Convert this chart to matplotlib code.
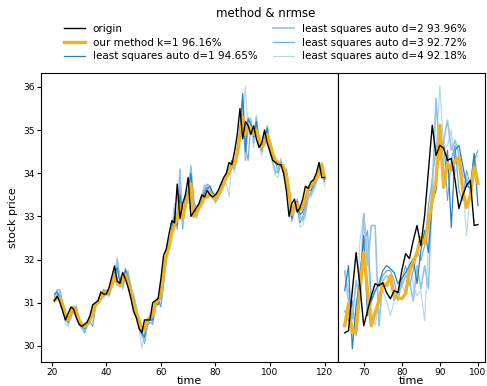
import numpy as np
import matplotlib.pyplot as plt

# left panel: t = 21..120
t_left = np.arange(21, 121)

origin = [31.05, 31.15, 31.0, 30.8, 30.6, 30.75, 30.9, 30.85, 30.65, 30.5,
          30.45, 30.5, 30.55, 30.7, 30.95, 31.0, 31.05, 31.25, 31.2, 31.2,
          31.35, 31.6, 31.85, 31.5, 31.45, 31.7, 31.55, 31.35, 31.1, 30.8,
          30.65, 30.4, 30.3, 30.6, 30.6, 30.6, 31.0, 31.05, 31.1, 31.55,
          32.1, 32.25, 32.6, 32.9, 32.85, 33.75, 32.95, 33.3, 33.5, 33.9,
          33.0, 33.1, 33.2, 33.3, 33.5, 33.45, 33.6, 33.5, 33.45, 33.5,
          33.6, 33.75, 33.9, 34.0, 34.25, 34.2, 34.5, 34.9, 35.5, 34.8,
          35.2, 35.1, 34.9, 35.1, 34.8, 34.6, 34.7, 35.0, 34.7, 34.5,
          34.3, 34.25, 34.2, 34.2, 34.0, 33.6, 33.0, 33.3, 33.4, 33.1,
          33.2, 33.4, 33.7, 33.65, 33.8, 33.85, 34.0, 34.25, 33.9, 33.9]

ours = [31.05, 31.1, 31.1, 30.95, 30.75, 30.6, 30.75, 30.9, 30.8, 30.6,
        30.5, 30.45, 30.5, 30.6, 30.75, 30.95, 31.0, 31.1, 31.25, 31.2,
        31.25, 31.4, 31.65, 31.45, 31.4, 31.5, 31.65, 31.45, 31.25, 30.95,
        30.75, 30.6, 30.4, 30.35, 30.6, 30.65, 30.7, 31.0, 31.05, 31.2,
        31.7, 32.1, 32.3, 32.6, 32.8, 32.95, 33.25, 32.95, 33.25, 33.5,
        33.75, 33.0, 33.05, 33.2, 33.3, 33.45, 33.45, 33.55, 33.45, 33.4,
        33.5, 33.6, 33.75, 33.9, 34.0, 34.2, 34.2, 34.45, 34.85, 35.3,
        34.9, 35.1, 35.05, 34.9, 35.0, 34.8, 34.6, 34.7, 34.9, 34.7,
        34.45, 34.3, 34.25, 34.2, 34.15, 33.95, 33.55, 33.05, 33.25, 33.3,
        33.15, 33.2, 33.4, 33.65, 33.7, 33.8, 33.85, 34.0, 34.2, 33.9]

ls_d1 = [31.2, 31.25, 31.1, 30.95, 30.75, 30.55, 30.7, 30.9, 30.85, 30.6,
         30.45, 30.4, 30.5, 30.6, 30.8, 31.0, 31.0, 31.1, 31.3, 31.2,
         31.2, 31.4, 31.7, 31.8, 31.45, 31.45, 31.75, 31.55, 31.3, 31.05,
         30.75, 30.6, 30.3, 30.2, 30.55, 30.6, 30.6, 31.0, 30.95, 31.15,
         31.6, 32.1, 32.3, 32.7, 33.0, 32.8, 33.5, 33.0, 33.35, 33.6,
         34.0, 33.15, 33.1, 33.25, 33.35, 33.55, 33.65, 33.7, 33.55, 33.5,
         33.5, 33.65, 33.8, 33.95, 34.05, 34.3, 34.25, 34.55, 34.95, 35.85,
         34.5, 35.25, 35.15, 34.85, 35.2, 34.75, 34.55, 34.75, 35.05, 34.6,
         34.4, 34.25, 34.2, 34.25, 34.15, 34.05, 33.5, 32.95, 33.3, 33.35,
         33.05, 33.1, 33.3, 33.6, 33.6, 33.75, 33.85, 34.05, 34.2, 33.85]

ls_d2 = [31.1, 31.2, 31.2, 30.9, 30.65, 30.5, 30.65, 30.85, 30.9, 30.55,
         30.4, 30.35, 30.55, 30.65, 30.7, 30.9, 31.05, 31.15, 31.2, 31.3,
         31.15, 31.45, 31.6, 32.0, 31.5, 31.35, 31.6, 31.7, 31.35, 31.15,
         30.85, 30.5, 30.25, 30.1, 30.5, 30.7, 30.55, 30.95, 31.1, 31.1,
         31.5, 32.2, 32.4, 32.55, 33.2, 32.9, 34.1, 32.8, 33.4, 33.45,
         34.15, 33.3, 33.0, 33.3, 33.4, 33.7, 33.7, 33.6, 33.5, 33.35,
         33.45, 33.7, 33.85, 33.85, 34.1, 34.25, 34.1, 34.6, 35.0, 35.7,
         34.3, 35.3, 35.2, 34.7, 35.3, 34.7, 34.5, 34.8, 35.1, 34.5,
         34.3, 34.0, 34.1, 34.3, 34.0, 34.1, 33.6, 32.9, 33.2, 33.4,
         33.0, 32.9, 33.1, 33.45, 33.5, 33.7, 33.8, 34.1, 34.15, 34.0]

ls_d3 = [31.15, 31.3, 31.3, 31.0, 30.6, 30.55, 30.7, 30.8, 30.85, 30.65,
         30.45, 30.3, 30.45, 30.55, 30.45, 30.9, 31.0, 31.2, 31.15, 31.2,
         31.3, 31.35, 31.55, 31.9, 31.6, 31.4, 31.8, 31.6, 31.4, 31.0,
         30.9, 30.55, 30.4, 30.05, 30.45, 30.55, 30.5, 30.9, 31.05, 30.9,
         31.45, 32.0, 32.3, 32.75, 33.1, 32.7, 33.7, 32.7, 33.5, 33.4,
         34.1, 33.35, 33.2, 33.25, 33.45, 33.6, 33.75, 33.7, 33.45, 33.4,
         33.55, 33.6, 33.7, 33.9, 34.1, 34.1, 34.25, 34.5, 34.9, 35.6,
         34.6, 34.3, 35.2, 34.9, 35.15, 34.8, 34.6, 34.65, 35.05, 34.65,
         34.35, 34.3, 34.0, 34.2, 34.2, 33.9, 33.55, 33.0, 33.15, 33.2,
         32.85, 33.0, 33.2, 33.5, 33.55, 33.65, 33.85, 34.0, 34.25, 33.8]

ls_d4 = [31.0, 31.15, 31.25, 30.85, 30.5, 30.45, 30.8, 30.75, 30.95, 30.5,
         30.4, 30.3, 30.6, 30.55, 30.55, 30.85, 31.1, 31.25, 31.1, 31.3,
         31.2, 31.5, 31.45, 32.05, 31.55, 31.3, 31.65, 31.75, 31.25, 31.2,
         30.95, 30.45, 29.93, 30.3, 30.45, 30.75, 30.5, 30.85, 31.15, 30.95,
         31.4, 32.3, 32.5, 32.5, 33.3, 33.0, 33.8, 32.8, 33.55, 33.3,
         34.2, 33.5, 32.95, 33.2, 33.5, 33.75, 33.65, 33.55, 33.4, 33.3,
         33.4, 33.55, 33.8, 33.75, 33.45, 34.3, 34.0, 34.65, 35.1, 35.2,
         36.02, 34.9, 35.3, 34.6, 35.35, 34.65, 34.4, 34.9, 35.0, 34.45,
         34.2, 33.95, 33.9, 34.35, 33.95, 34.0, 33.7, 32.85, 33.1, 33.35,
         32.75, 32.8, 33.0, 33.4, 33.45, 33.6, 33.75, 34.15, 34.1, 33.7]

# right panel: t = 65..100
t_right = np.arange(65, 101)

r_origin = [32.30, 32.32, 32.72, 33.10, 32.77, 32.37, 32.52, 32.67, 32.79, 32.77,
            32.80, 32.70, 32.64, 32.72, 32.70, 32.92, 33.09, 33.04, 33.22, 33.37,
            33.17, 33.47, 33.92, 34.37, 34.07, 34.17, 34.14, 34.02, 34.04, 33.82,
            33.54, 33.67, 33.77, 33.82, 33.37, 33.38]

r_ours = [32.37, 32.59, 32.30, 32.32, 32.72, 33.10, 32.72, 32.37, 32.50, 32.62,
          32.79, 32.77, 32.87, 32.67, 32.65, 32.64, 32.69, 32.92, 33.00, 33.10,
          33.25, 33.19, 33.40, 33.62, 33.82, 34.37, 33.75, 33.99, 33.92, 34.02,
          34.05, 33.72, 33.55, 33.67, 33.95, 33.79]

r_d1 = [32.72, 32.97, 32.14, 32.57, 32.82, 33.27, 32.47, 32.62, 32.72, 32.79,
        32.92, 32.97, 32.94, 32.90, 32.79, 32.84, 32.90, 32.97, 33.04, 32.79,
        33.12, 33.32, 33.10, 33.62, 33.72, 34.32, 33.79, 34.12, 33.35, 34.12,
        34.17, 33.97, 33.77, 33.74, 34.09, 33.57]

r_d2 = [32.92, 32.62, 32.44, 32.82, 32.62, 33.49, 32.97, 33.37, 33.37, 32.37,
        32.82, 32.87, 32.82, 32.62, 32.70, 32.77, 32.87, 32.82, 32.62, 32.97,
        32.74, 32.97, 32.74, 33.72, 34.64, 34.02, 34.22, 34.42, 34.12, 34.22,
        34.07, 33.87, 33.84, 33.72, 34.07, 33.82]

r_d3 = [32.52, 32.42, 32.62, 32.27, 32.92, 33.19, 33.32, 32.62, 32.72, 32.77,
        32.87, 32.92, 32.92, 32.82, 32.62, 32.82, 32.97, 32.77, 32.92, 33.12,
        33.02, 33.17, 33.57, 33.82, 34.17, 34.12, 34.22, 33.62, 34.02, 34.17,
        33.72, 33.62, 33.92, 33.77, 34.02, 34.12]

r_d4 = [32.92, 32.72, 32.52, 32.32, 33.22, 33.49, 33.12, 32.52, 32.37, 32.62,
        32.72, 32.62, 32.47, 32.62, 32.72, 32.79, 32.69, 33.02, 32.77, 32.67,
        32.72, 32.42, 33.22, 33.87, 34.12, 34.76, 34.12, 34.17, 34.32, 33.87,
        34.07, 33.82, 33.27, 33.72, 34.02, 34.07]

labels = ['origin', 'our method k=1 96.16%', 'least squares auto d=1 94.65%',
          'least squares auto d=2 93.96%', 'least squares auto d=3 92.72%',
          'least squares auto d=4 92.18%']
colors = ['black', '#f2b322', '#2f7dbf', '#93c4e4', '#67a9d8', '#b4d6ee']
widths = [1.0, 2.4, 0.9, 1.2, 0.8, 0.8]

left_series = [origin, ours, ls_d1, ls_d2, ls_d3, ls_d4]
right_series = [r_origin, r_ours, r_d1, r_d2, r_d3, r_d4]
# drawing order: lightest first, origin on top
order = [5, 4, 3, 2, 1, 0]

fig = plt.figure(figsize=(4.87, 3.86), dpi=100)
ax1 = fig.add_axes([0.0842, 0.0622, 0.6099, 0.7487])
ax2 = fig.add_axes([0.6941, 0.0622, 0.3010, 0.7487])

handles = [None] * 6
for i in order:
    h, = ax1.plot(t_left, left_series[i], color=colors[i], lw=widths[i], label=labels[i])
    handles[i] = h
    ax2.plot(t_right, right_series[i], color=colors[i], lw=widths[i])

ax1.set_xticks([20, 40, 60, 80, 100, 120])
ax1.set_ylabel('stock price', fontsize=8)
ax1.set_xlabel('time', fontsize=8, labelpad=-1)
ax1.tick_params(labelsize=6.5, length=3, pad=1.5)

ax2.set_xticks([70, 80, 90, 100])
ax2.set_yticks([])
ax2.set_xlabel('time', fontsize=8, labelpad=-1)
ax2.tick_params(labelsize=6.5, length=3, pad=1.5)

fig.legend(handles=handles, loc='upper center', bbox_to_anchor=(0.545, 1.0),
           ncol=2, frameon=False, title='method & nrmse', fontsize=7.5,
           title_fontsize=8.5, labelspacing=0.35, columnspacing=1.5, borderaxespad=0.3)

fig.savefig('out.png', dpi=100)
